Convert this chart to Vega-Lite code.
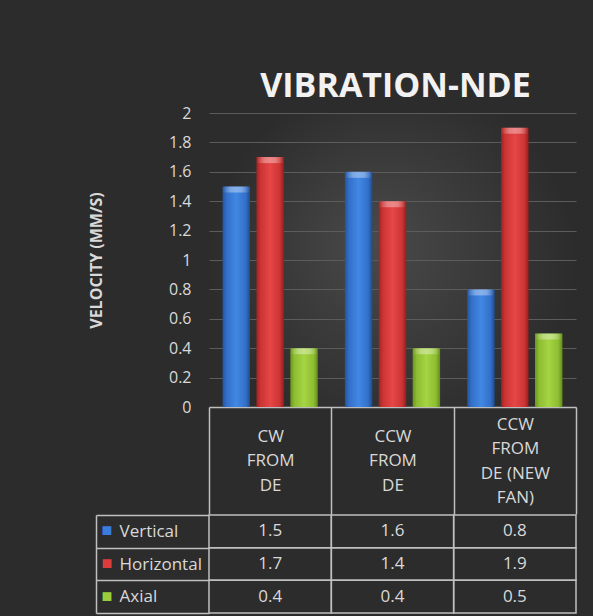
{
  "$schema": "https://vega.github.io/schema/vega-lite/v6.json",
  "background": "#2c2c2c",
  "padding": {"left": 88, "top": 70, "right": 22, "bottom": 2},
  "spacing": -9,
  "config": {
    "font": "Open Sans",
    "view": {"stroke": null}
  },
  "data": {
    "values": [
      {"category": "CW FROM DE", "series": "Vertical", "value": 1.5},
      {"category": "CW FROM DE", "series": "Horizontal", "value": 1.7},
      {"category": "CW FROM DE", "series": "Axial", "value": 0.4},
      {"category": "CCW FROM DE", "series": "Vertical", "value": 1.6},
      {"category": "CCW FROM DE", "series": "Horizontal", "value": 1.4},
      {"category": "CCW FROM DE", "series": "Axial", "value": 0.4},
      {"category": "CCW FROM DE (NEW FAN)", "series": "Vertical", "value": 0.8},
      {"category": "CCW FROM DE (NEW FAN)", "series": "Horizontal", "value": 1.9},
      {"category": "CCW FROM DE (NEW FAN)", "series": "Axial", "value": 0.5}
    ]
  },
  "vconcat": [
    {
      "width": 367,
      "height": 294,
      "title": {"text": "VIBRATION-NDE", "font": "Open Sans", "fontSize": 34, "fontWeight": "bold", "color": "#f2f2f2", "anchor": "middle", "offset": 1, "dx": 3},
      "view": {"stroke": null, "fill": {"gradient": "radial", "x1": 0.45, "y1": 0.45, "r1": 0, "x2": 0.5, "y2": 0.5, "r2": 0.5, "stops": [{"offset": 0, "color": "#4a4a4a"}, {"offset": 1, "color": "#2c2c2c"}]}},
      "encoding": {
        "x": {"field": "category", "type": "nominal", "sort": null,
          "scale": {"domain": ["CW FROM DE", "CCW FROM DE", "CCW FROM DE (NEW FAN)"], "paddingInner": 0, "paddingOuter": 0},
          "axis": {"title": null, "labelAngle": 0, "domainColor": "#bfbfbf", "domainWidth": 1.5, "tickColor": "#bfbfbf", "tickWidth": 1.5, "tickSize": 107, "tickBand": "extent",
            "labelPadding": {"condition": {"test": "datum.value == 'CCW FROM DE (NEW FAN)'", "value": -90}, "value": -78},
            "labelBaseline": "middle", "labelLineHeight": 24.5, "labelFontSize": 17, "labelColor": "#d9d9d9", "labelFont": "Open Sans", "labelOverlap": false,
            "labelExpr": "datum.value == 'CW FROM DE' ? ['CW','FROM','DE'] : datum.value == 'CCW FROM DE' ? ['CCW','FROM','DE'] : datum.value == 'CCW FROM DE (NEW FAN)' ? ['CCW','FROM','DE (NEW','FAN)'] : ''"}},
        "xOffset": {"field": "series", "type": "nominal", "scale": {"domain": ["Vertical", "Horizontal", "Axial"], "paddingInner": 0.19, "paddingOuter": 0.4}},
        "y": {"field": "value", "type": "quantitative",
          "scale": {"domain": [0, 2], "nice": false},
          "axis": {"title": "VELOCITY (MM/S)", "titleFont": "Open Sans", "titleFontWeight": "bold", "titleFontSize": 16, "titleColor": "#d9d9d9", "titlePadding": 64,
            "values": [0, 0.2, 0.4, 0.6, 0.8, 1, 1.2, 1.4, 1.6, 1.8, 2], "format": "~g",
            "ticks": false, "domain": false, "labelPadding": 18, "labelColor": "#d9d9d9", "labelFontSize": 16, "labelFont": "Open Sans",
            "grid": true, "gridColor": "#5c5c5c", "gridWidth": 1}}
      },
      "layer": [
        {
          "transform": [{"filter": "datum.series == 'Vertical'"}],
          "mark": {"type": "bar", "fill": {"gradient": "linear", "x1": 0, "y1": 0, "x2": 1, "y2": 0, "stops": [{"offset": 0, "color": "#22549e"}, {"offset": 0.15, "color": "#336fc8"}, {"offset": 0.5, "color": "#4188e4"}, {"offset": 0.85, "color": "#336fc8"}, {"offset": 1, "color": "#1e4b8e"}]}}
        },
        {
          "transform": [{"filter": "datum.series == 'Horizontal'"}],
          "mark": {"type": "bar", "fill": {"gradient": "linear", "x1": 0, "y1": 0, "x2": 1, "y2": 0, "stops": [{"offset": 0, "color": "#a02222"}, {"offset": 0.15, "color": "#cc3434"}, {"offset": 0.5, "color": "#e64646"}, {"offset": 0.85, "color": "#cc3434"}, {"offset": 1, "color": "#961e1e"}]}}
        },
        {
          "transform": [{"filter": "datum.series == 'Axial'"}],
          "mark": {"type": "bar", "fill": {"gradient": "linear", "x1": 0, "y1": 0, "x2": 1, "y2": 0, "stops": [{"offset": 0, "color": "#6a961f"}, {"offset": 0.15, "color": "#8dbd31"}, {"offset": 0.5, "color": "#a5d543"}, {"offset": 0.85, "color": "#8dbd31"}, {"offset": 1, "color": "#628c1b"}]}}
        },
        {
          "mark": {"type": "bar", "y2Offset": 6, "fill": {"gradient": "linear", "x1": 0, "y1": 0, "x2": 1, "y2": 0, "stops": [{"offset": 0, "color": "rgba(255,255,255,0)"}, {"offset": 0.3, "color": "rgba(255,255,255,0.35)"}, {"offset": 0.7, "color": "rgba(255,255,255,0.35)"}, {"offset": 1, "color": "rgba(255,255,255,0)"}]}},
          "encoding": {"y2": {"field": "value"}}
        }
      ]
    },
    {
      "width": 367,
      "height": 98,
      "encoding": {
        "x": {"field": "category", "type": "nominal", "sort": null,
          "scale": {"domain": ["CW FROM DE", "CCW FROM DE", "CCW FROM DE (NEW FAN)"], "paddingInner": 0, "paddingOuter": 0},
          "axis": null},
        "y": {"field": "series", "type": "nominal", "sort": null,
          "scale": {"domain": ["Vertical", "Horizontal", "Axial"], "paddingInner": 0, "paddingOuter": 0}}
      },
      "layer": [
        {
          "mark": {"type": "rect", "fill": "#ffffff", "fillOpacity": 0, "stroke": "#bfbfbf", "strokeWidth": 1.5},
          "encoding": {
            "y": {"field": "series", "type": "nominal", "sort": null,
              "scale": {"domain": ["Vertical", "Horizontal", "Axial"], "paddingInner": 0, "paddingOuter": 0},
              "axis": {"title": null, "orient": "left", "domain": false, "tickSize": 113, "tickBand": "extent", "tickColor": "#bfbfbf", "tickWidth": 1.5,
                "labelAlign": "left", "labelPadding": -23, "labelBaseline": "middle", "labelFontSize": 17, "labelColor": "#d9d9d9", "labelFont": "Open Sans"}}
          }
        },
        {
          "mark": {"type": "text", "fontSize": 17, "color": "#d9d9d9", "font": "Open Sans"},
          "encoding": {
            "y": {"field": "series", "type": "nominal", "sort": null,
              "scale": {"domain": ["Vertical", "Horizontal", "Axial"], "paddingInner": 0, "paddingOuter": 0},
              "axis": {"title": null, "orient": "left", "offset": 113, "ticks": false, "domain": true, "domainColor": "#bfbfbf", "domainWidth": 1.5,
                "labelAlign": "left", "labelPadding": -5, "labelBaseline": "middle", "labelFontSize": 18, "labelExpr": "'■'",
                "labelColor": {"condition": [{"test": "datum.value === 'Vertical'", "value": "#3b7ddd"}, {"test": "datum.value === 'Horizontal'", "value": "#dc3c3c"}], "value": "#9ccc3c"}}},
            "text": {"field": "value", "type": "quantitative", "format": ".1f"}
          }
        }
      ],
      "resolve": {"axis": {"y": "independent"}}
    }
  ]
}
